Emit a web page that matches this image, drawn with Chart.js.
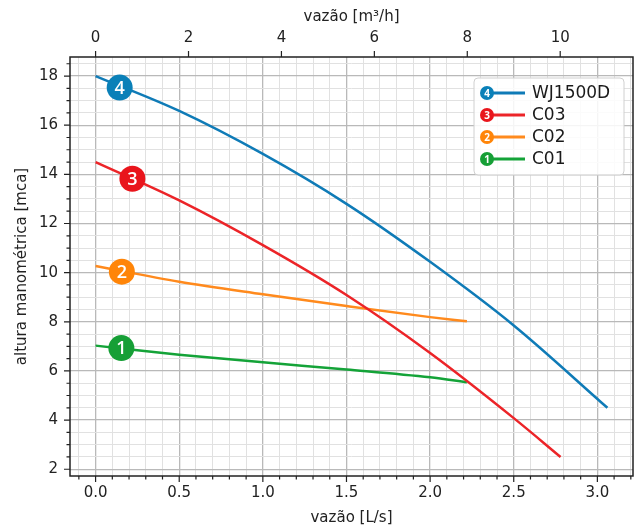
<!DOCTYPE html>
<html lang="pt">
<head>
<meta charset="UTF-8">
<title>Curvas das bombas</title>
<script src="https://cdn.jsdelivr.net/npm/chart.js"></script>
<style>
  body { margin: 0; background: #fff; }
  canvas { display: block; }
</style>
</head>
<body>
<canvas id="pumpChart" width="641" height="529"></canvas>
<script>
// curve readings: flow [L/s] and head [mca]
const flowWJ = [0, 0.5, 1.0, 1.5, 2.0, 2.5, 3.06];
const headWJ = [18.0, 16.58, 14.83, 12.8, 10.44, 7.85, 4.5];
const flowC03 = [0, 0.5, 1.0, 1.5, 2.0, 2.5, 2.78];
const headC03 = [14.5, 12.94, 11.12, 9.09, 6.73, 4.08, 2.5];
const flowC02 = [0, 0.5, 1.0, 1.5, 2.0, 2.22];
const headC02 = [10.27, 9.63, 9.12, 8.64, 8.19, 8.02];
const flowC01 = [0, 0.5, 1.0, 1.5, 2.0, 2.22];
const headC01 = [7.03, 6.66, 6.35, 6.06, 5.74, 5.54];

const seriesNames = ['WJ1500D', 'C03', 'C02', 'C01'];
const badgeNums = ['4', '3', '2', '1'];
const badgeX = [0.144, 0.22, 0.157, 0.154];
const badgeY = [17.53, 13.82, 10.04, 6.93];

const bottomLabels = [0, 0.5, 1.0, 1.5, 2.0, 2.5, 3.0];
const topLabels = [0, 2, 4, 6, 8, 10];
const leftLabels = [2, 4, 6, 8, 10, 12, 14, 16, 18];

const LS_TO_M3H = 3.6;
const xMin = -0.153, xMax = 3.213;
const yMin = 1.725, yMax = 18.775;

const lineColors = ['#0f7bb7', '#ec2428', '#ff8a1d', '#14a338'];
const badgeColors = ['#0a80b8', '#e9151c', '#ff8508', '#169f36'];

const FONT = '"DejaVu Sans", sans-serif';

function pts(xs, ys) {
    return xs.map(function(x, i) { return {x: x, y: ys[i]}; });
}

function isOn(v, step) {
    return Math.abs(v / step - Math.round(v / step)) < 1e-6;
}

// minor tick lists (grid every 0.1 L/s and every 0.5 mca)
var xMinor = [];
for (var i = -1; i <= 32; i++) xMinor.push(Math.round(i) / 10);
var yMinor = [];
for (var j = 4; j <= 37; j++) yMinor.push(j / 2);

function gridColor(step) {
    return function(ctx) {
        if (!ctx.tick) return '#e0e0e0';
        return isOn(ctx.tick.value, step) ? '#b9b9b9' : '#e1e1e1';
    };
}
function gridWidth(step) {
    return function(ctx) {
        if (!ctx.tick) return 1;
        return isOn(ctx.tick.value, step) ? 1.3 : 1;
    };
}

function circle(ctx, x, y, r, color, num, font) {
    ctx.beginPath();
    ctx.arc(x, y, r, 0, Math.PI * 2);
    ctx.fillStyle = color;
    ctx.fill();
    ctx.fillStyle = '#fff';
    ctx.font = font;
    ctx.textAlign = 'center';
    ctx.textBaseline = 'middle';
    ctx.fillText(num, x, y + 1);
}

// tick marks, frame, number badges and the legend box
const decorations = {
    id: 'decorations',
    afterDatasetsDraw: function(chart) {
        var ctx = chart.ctx;
        var xs = chart.scales.x, ys = chart.scales.y;
        ctx.save();
        badgeNums.forEach(function(n, k) {
            circle(ctx, xs.getPixelForValue(badgeX[k]), ys.getPixelForValue(badgeY[k]),
                13, badgeColors[k], n, '600 18px "Open Sans", sans-serif');
        });
        ctx.restore();
    },
    afterDraw: function(chart) {
        var ctx = chart.ctx;
        var a = chart.chartArea;
        var xs = chart.scales.x, ys = chart.scales.y, xt = chart.scales.x2;
        ctx.save();
        ctx.strokeStyle = '#222';
        ctx.lineWidth = 1.2;
        ctx.beginPath();
        xMinor.forEach(function(v) {
            var p = xs.getPixelForValue(v);
            var len = isOn(v, 0.5) ? 6 : 3.5;
            ctx.moveTo(p, a.bottom); ctx.lineTo(p, a.bottom + len);
        });
        yMinor.forEach(function(v) {
            var p = ys.getPixelForValue(v);
            var len = isOn(v, 2) ? 6 : 3.5;
            ctx.moveTo(a.left, p); ctx.lineTo(a.left - len, p);
        });
        topLabels.forEach(function(v) {
            var p = xt.getPixelForValue(v);
            ctx.moveTo(p, a.top); ctx.lineTo(p, a.top - 6);
        });
        ctx.stroke();
        ctx.lineWidth = 1.5;
        ctx.strokeRect(a.left, a.top, a.right - a.left, a.bottom - a.top);

        // legend
        var bw = 150, bh = 97;
        var bx = a.right - 9 - bw, by = a.top + 21;
        var r = 4;
        ctx.beginPath();
        ctx.moveTo(bx + r, by);
        ctx.arcTo(bx + bw, by, bx + bw, by + bh, r);
        ctx.arcTo(bx + bw, by + bh, bx, by + bh, r);
        ctx.arcTo(bx, by + bh, bx, by, r);
        ctx.arcTo(bx, by, bx + bw, by, r);
        ctx.closePath();
        ctx.fillStyle = 'rgba(255,255,255,0.85)';
        ctx.fill();
        ctx.strokeStyle = '#d0d0d0';
        ctx.lineWidth = 1;
        ctx.stroke();
        seriesNames.forEach(function(name, k) {
            var cy = by + 15 + k * 22;
            var cx = bx + 13;
            ctx.strokeStyle = lineColors[k];
            ctx.lineWidth = 3;
            ctx.beginPath();
            ctx.moveTo(cx, cy); ctx.lineTo(cx + 38, cy);
            ctx.stroke();
            circle(ctx, cx, cy, 7, badgeColors[k], badgeNums[k], 'bold 10px "Open Sans", sans-serif');
            ctx.fillStyle = '#1a1a1a';
            ctx.font = '17px ' + FONT;
            ctx.textAlign = 'left';
            ctx.textBaseline = 'middle';
            ctx.fillText(name, bx + 58, cy + 1);
        });
        ctx.restore();
    }
};

var flows = [flowWJ, flowC03, flowC02, flowC01];
var heads = [headWJ, headC03, headC02, headC01];

var datasets = seriesNames.map(function(name, k) {
    return {
        label: name,
        data: pts(flows[k], heads[k]),
        borderColor: lineColors[k],
        borderWidth: 2.5,
        pointRadius: 0,
        fill: false,
        cubicInterpolationMode: 'monotone'
    };
});

var tickFont = { family: FONT, size: 15 };
var titleFont = { family: FONT, size: 15 };

new Chart(document.getElementById('pumpChart').getContext('2d'), {
    type: 'line',
    data: { datasets: datasets },
    plugins: [decorations],
    options: {
        responsive: false,
        animation: false,
        layout: { padding: { left: 0, right: 8, top: 0, bottom: 0 } },
        plugins: { legend: { display: false }, tooltip: { enabled: false } },
        scales: {
            x: {
                type: 'linear',
                position: 'bottom',
                min: xMin,
                max: xMax,
                afterBuildTicks: function(axis) {
                    axis.ticks = xMinor.map(function(v) { return {value: v}; });
                },
                afterFit: function(axis) { axis.height = 53; },
                grid: { color: gridColor(0.5), lineWidth: gridWidth(0.5), drawTicks: false },
                border: { display: false },
                ticks: {
                    autoSkip: false,
                    maxRotation: 0,
                    padding: 8,
                    color: '#222',
                    font: tickFont,
                    callback: function(v) {
                        return bottomLabels.some(function(b) { return Math.abs(b - v) < 1e-6; }) ? v.toFixed(1) : '';
                    }
                },
                title: { display: true, text: 'vazão [L/s]', color: '#222', font: titleFont, padding: { top: 0, bottom: 2 } }
            },
            x2: {
                type: 'linear',
                position: 'top',
                min: xMin * LS_TO_M3H,
                max: xMax * LS_TO_M3H,
                afterBuildTicks: function(axis) {
                    axis.ticks = topLabels.map(function(v) { return {value: v}; });
                },
                afterFit: function(axis) { axis.height = 57; },
                grid: { drawOnChartArea: false, drawTicks: false },
                border: { display: false },
                ticks: { autoSkip: false, maxRotation: 0, padding: 10, color: '#222', font: tickFont },
                title: { display: true, text: 'vazão [m³/h]', color: '#222', font: titleFont, padding: { top: 8, bottom: 0 } }
            },
            y: {
                type: 'linear',
                position: 'left',
                min: yMin,
                max: yMax,
                afterBuildTicks: function(axis) {
                    axis.ticks = yMinor.map(function(v) { return {value: v}; });
                },
                afterFit: function(axis) { axis.width = 70; },
                grid: { color: gridColor(2), lineWidth: gridWidth(2), drawTicks: false },
                border: { display: false },
                ticks: {
                    autoSkip: false,
                    padding: 12,
                    color: '#222',
                    font: tickFont,
                    callback: function(v) { return leftLabels.indexOf(v) >= 0 ? String(v) : ''; }
                },
                title: { display: true, text: 'altura manométrica [mca]', color: '#222', font: titleFont, padding: { top: 13, bottom: 0 } }
            }
        }
    }
});
</script>
</body>
</html>
